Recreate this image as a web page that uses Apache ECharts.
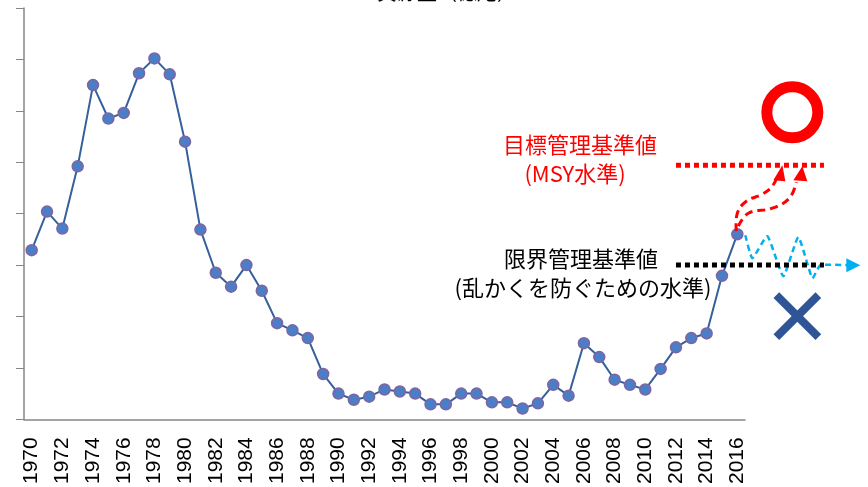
<!DOCTYPE html>
<html>
<head>
<meta charset="utf-8">
<script src="https://cdn.jsdelivr.net/npm/echarts@6/dist/echarts.min.js"></script>
<style>
  html, body { margin: 0; padding: 0; background: #fff; }
  #chart { width: 868px; height: 487px; }
</style>
</head>
<body>
<div id="chart"></div>
<script>
// years on the x axis
const years = [];
for (let y = 1970; y <= 2016; y++) years.push(String(y));

// stock size (axis units, 0-8)
const biomass = [
  3.29, 4.04, 3.71, 4.92, 6.50, 5.85, 5.96, 6.73, 7.02, 6.71,
  5.40, 3.69, 2.85, 2.58, 3.00, 2.50, 1.87, 1.73, 1.58, 0.88,
  0.50, 0.38, 0.44, 0.58, 0.54, 0.50, 0.29, 0.29, 0.50, 0.50,
  0.33, 0.33, 0.21, 0.31, 0.67, 0.46, 1.48, 1.21, 0.77, 0.67,
  0.58, 0.98, 1.40, 1.58, 1.67, 2.79, 3.60
];

// reference levels
const targetLevel = [4.94];   // 目標管理基準値 (MSY水準)
const limitLevel = [3.0];     // 限界管理基準値

const FONT_JP = '"Noto Sans CJK JP", "Noto Sans", sans-serif';

const chart = echarts.init(document.getElementById('chart'));

chart.setOption({
  animation: false,
  grid: { left: 24, right: 123, top: 8, bottom: 63 },
  xAxis: {
    type: 'category',
    data: years,
    boundaryGap: true,
    axisLine: { lineStyle: { color: '#868686', width: 1.5 } },
    axisTick: { alignWithLabel: false, interval: 0, length: 7, lineStyle: { color: '#868686' } },
    axisLabel: {
      interval: 1,
      rotate: 90,
      margin: 18,
      color: '#000',
      fontSize: 21,
      fontFamily: '"Liberation Sans", Arial, sans-serif'
    }
  },
  yAxis: {
    type: 'value',
    min: 0,
    max: 8,
    interval: 1,
    axisLine: { show: true, lineStyle: { color: '#868686', width: 1.5 } },
    axisTick: { show: true, length: 8, lineStyle: { color: '#868686' } },
    axisLabel: { show: false },
    splitLine: { show: false }
  },
  series: [
    {
      type: 'line',
      data: biomass,
      symbol: 'circle',
      symbolSize: 11,
      showAllSymbol: true,
      lineStyle: { color: '#35609B', width: 2 },
      itemStyle: { color: '#4A7EC6', borderColor: '#8064A2', borderWidth: 1.5 },
      z: 3
    }
  ]
});

// annotation overlay, placed from the axis scales
const px = (i, v) => chart.convertToPixel({ seriesIndex: 0 }, [i, v]);
const last = biomass.length - 1;
const p16 = px(last, biomass[last]);
const x0 = px(42, 0)[0];
const x1 = x0 + 148;
const yT = px(0, targetLevel[0])[1];
const yL = px(0, limitLevel[0])[1];
const ox = p16[0], oy = p16[1];
const rel = pts => pts.map(p => [ox + p[0], oy + p[1]]);

const dotted = (y, color) => ({
  type: 'line',
  shape: { x1: x0, y1: y, x2: x1, y2: y },
  style: { stroke: color, lineWidth: 5, lineDash: [5, 4] },
  z: 10
});

chart.setOption({
  graphic: [
    // cut-off title at the very top
    {
      type: 'text', x: 447, y: 2,
      style: { text: '資源量（億尾）', font: '20px ' + FONT_JP, fill: '#000', align: 'center', verticalAlign: 'bottom' }
    },
    dotted(yT, '#FF0000'),
    dotted(yL, '#000000'),
    {
      type: 'text', x: 580, y: yT - 21,
      style: { text: '目標管理基準値', font: '22px ' + FONT_JP, fill: '#FF0000', align: 'center', verticalAlign: 'middle' }
    },
    {
      type: 'text', x: 575, y: yT + 8,
      style: { text: '(MSY水準)', font: '22px ' + FONT_JP, fill: '#FF0000', align: 'center', verticalAlign: 'middle' }
    },
    {
      type: 'text', x: 581, y: yL - 6,
      style: { text: '限界管理基準値', font: '22px ' + FONT_JP, fill: '#000', align: 'center', verticalAlign: 'middle' }
    },
    {
      type: 'text', x: 583, y: yL + 23,
      style: { text: '(乱かくを防ぐための水準)', font: '22px ' + FONT_JP, fill: '#000', align: 'center', verticalAlign: 'middle' }
    },
    // red ring (good outcome)
    {
      type: 'circle', shape: { cx: ox + 55, cy: yT - 53, r: 25.5 },
      style: { fill: 'none', stroke: '#FF0000', lineWidth: 11 }, z: 10
    },
    // blue cross (bad outcome)
    {
      type: 'line', shape: { x1: ox + 39, y1: yL + 30, x2: ox + 81, y2: yL + 72 },
      style: { stroke: '#2F5597', lineWidth: 8 }, z: 10
    },
    {
      type: 'line', shape: { x1: ox + 81, y1: yL + 30, x2: ox + 39, y2: yL + 72 },
      style: { stroke: '#2F5597', lineWidth: 8 }, z: 10
    },
    // red dashed rising paths
    {
      type: 'polyline', shape: { points: rel([[-1, -3], [0, -21], [9, -33], [25, -40], [35, -48], [41, -60]]), smooth: 0.4 },
      style: { stroke: '#FF0000', lineWidth: 3, lineDash: [8, 5], fill: 'none' }, z: 9
    },
    {
      type: 'polygon', shape: { points: rel([[45, -69], [36, -54], [48, -53]]) },
      style: { fill: '#FF0000' }, z: 9
    },
    {
      type: 'polyline', shape: { points: rel([[1, -8], [11, -21], [35, -26], [52, -36], [59, -52]]), smooth: 0.4 },
      style: { stroke: '#FF0000', lineWidth: 3, lineDash: [8, 5], fill: 'none' }, z: 9
    },
    {
      type: 'polygon', shape: { points: rel([[65, -68], [56, -54], [70, -53]]) },
      style: { fill: '#FF0000' }, z: 9
    },
    // blue dashed wobbling path
    {
      type: 'polyline',
      shape: { points: rel([[8, 1], [15, 24], [30, 2], [46, 42], [61, 3], [75, 44], [83, 31], [111, 31]]), smooth: 0.15 },
      style: { stroke: '#00B0F0', lineWidth: 2.5, lineDash: [6, 4], fill: 'none' }, z: 9
    },
    {
      type: 'polygon', shape: { points: rel([[123, 31], [109, 24], [109, 38]]) },
      style: { fill: '#00B0F0' }, z: 9
    }
  ]
});
</script>
</body>
</html>
